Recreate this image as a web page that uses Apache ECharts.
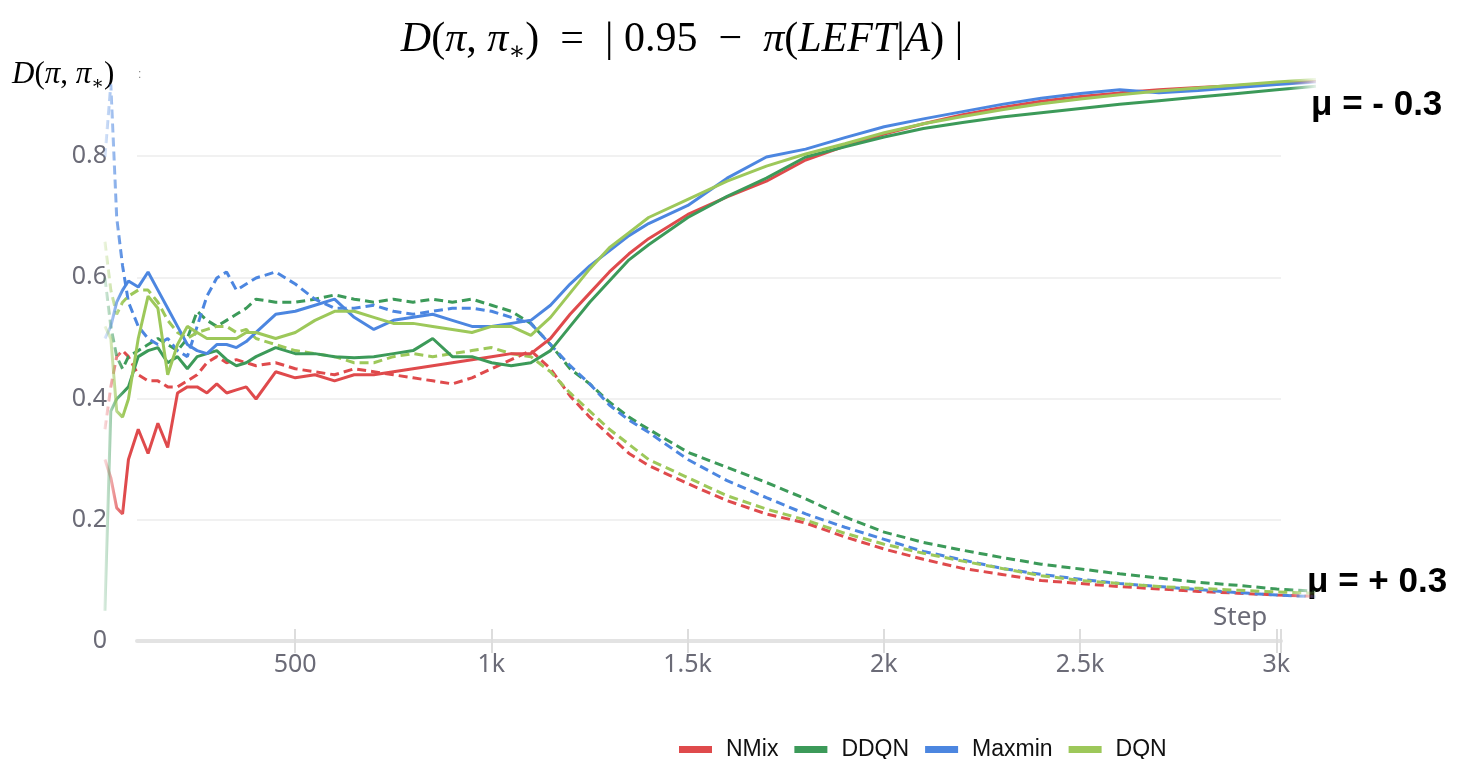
<!DOCTYPE html>
<html>
<head>
<meta charset="utf-8">
<title>D(pi, pi*)</title>
<script src="https://cdn.jsdelivr.net/npm/echarts@6/dist/echarts.min.js"></script>
<style>
    html, body { margin: 0; padding: 0; background: #fff; }
    #chartData { width: 1458px; height: 759px; }
</style>
</head>
<body>
<div id="chartData"></div>
<script>
// steps (x axis)
var steps = [15, 30, 45, 60, 75,
    100, 125, 150, 175, 200, 225, 250, 275, 300, 325, 350, 375, 400,
    450, 500, 550, 600, 650, 700, 750, 800, 850, 900, 950, 1000, 1050, 1100, 1150, 1200, 1250, 1300, 1350, 1400,
    1500, 1600, 1700, 1800, 1900, 2000, 2100, 2200, 2300, 2400, 2500, 2600, 2700, 2800, 2900, 3000, 3100];

// mu = -0.3 (solid lines, going up)
var nmixSolid = [0.30, 0.27, 0.22, 0.21, 0.30,
    0.35, 0.31, 0.36, 0.32, 0.41, 0.42, 0.42, 0.41, 0.425, 0.41, 0.415, 0.42, 0.40,
    0.445, 0.435, 0.44, 0.43, 0.44, 0.44, 0.445, 0.45, 0.455, 0.46, 0.465, 0.47, 0.475, 0.475, 0.50, 0.54, 0.575, 0.61, 0.64, 0.665,
    0.705, 0.734, 0.76, 0.795, 0.818, 0.838, 0.855, 0.87, 0.882, 0.892, 0.90, 0.906, 0.911, 0.915, 0.918, 0.921, 0.925];
var ddqnSolid = [0.05, 0.38, 0.40, 0.41, 0.42,
    0.47, 0.48, 0.485, 0.46, 0.47, 0.45, 0.47, 0.475, 0.48, 0.465, 0.455, 0.46, 0.47,
    0.485, 0.475, 0.475, 0.47, 0.468, 0.47, 0.475, 0.48, 0.50, 0.47, 0.47, 0.46, 0.455, 0.46, 0.48, 0.52, 0.56, 0.595, 0.63, 0.655,
    0.70, 0.735, 0.765, 0.80, 0.817, 0.833, 0.847, 0.857, 0.866, 0.873, 0.88, 0.887, 0.893, 0.899, 0.905, 0.911, 0.917];
var maxminSolid = [0.50, 0.52, 0.56, 0.58, 0.595,
    0.585, 0.61, 0.58, 0.55, 0.52, 0.49, 0.48, 0.475, 0.49, 0.49, 0.485, 0.495, 0.51,
    0.54, 0.545, 0.555, 0.565, 0.535, 0.515, 0.53, 0.535, 0.54, 0.53, 0.52, 0.52, 0.525, 0.53, 0.555, 0.59, 0.62, 0.645, 0.67, 0.69,
    0.72, 0.765, 0.80, 0.813, 0.832, 0.85, 0.863, 0.875, 0.887, 0.897, 0.905, 0.911, 0.906, 0.91, 0.915, 0.92, 0.924];
var dqnSolid = [0.52, 0.50, 0.38, 0.37, 0.40,
    0.50, 0.57, 0.55, 0.44, 0.49, 0.52, 0.51, 0.50, 0.50, 0.50, 0.50, 0.51, 0.51,
    0.50, 0.51, 0.53, 0.545, 0.545, 0.535, 0.525, 0.525, 0.52, 0.515, 0.51, 0.52, 0.52, 0.505, 0.535, 0.575, 0.615, 0.65, 0.675, 0.70,
    0.73, 0.76, 0.785, 0.805, 0.822, 0.84, 0.855, 0.867, 0.878, 0.888, 0.896, 0.903, 0.909, 0.914, 0.919, 0.924, 0.928];

// mu = +0.3 (dashed lines, going down)
var nmixDash = [0.35, 0.42, 0.47, 0.48, 0.47,
    0.44, 0.43, 0.43, 0.42, 0.42, 0.43, 0.44, 0.46, 0.47, 0.46, 0.465, 0.46, 0.455,
    0.46, 0.45, 0.445, 0.44, 0.45, 0.445, 0.44, 0.435, 0.43, 0.425, 0.435, 0.45, 0.465, 0.48, 0.45, 0.405, 0.37, 0.34, 0.31, 0.29,
    0.26, 0.232, 0.21, 0.195, 0.172, 0.152, 0.135, 0.12, 0.11, 0.10, 0.095, 0.09, 0.086, 0.082, 0.079, 0.076, 0.074];
var ddqnDash = [0.60, 0.52, 0.47, 0.45, 0.47,
    0.48, 0.49, 0.50, 0.49, 0.48, 0.50, 0.545, 0.53, 0.52, 0.53, 0.54, 0.55, 0.565,
    0.56, 0.56, 0.565, 0.572, 0.565, 0.56, 0.565, 0.56, 0.565, 0.56, 0.565, 0.555, 0.545, 0.525, 0.49, 0.45, 0.425, 0.395, 0.37, 0.35,
    0.312, 0.287, 0.262, 0.235, 0.205, 0.18, 0.163, 0.15, 0.138, 0.127, 0.119, 0.111, 0.104, 0.097, 0.092, 0.086, 0.082];
var maxminDash = [0.80, 0.92, 0.70, 0.62, 0.56,
    0.52, 0.50, 0.49, 0.50, 0.48, 0.47, 0.52, 0.57, 0.60, 0.61, 0.58, 0.59, 0.60,
    0.61, 0.59, 0.565, 0.55, 0.55, 0.555, 0.545, 0.54, 0.545, 0.55, 0.55, 0.545, 0.535, 0.525, 0.49, 0.455, 0.425, 0.39, 0.365, 0.345,
    0.30, 0.265, 0.237, 0.21, 0.188, 0.168, 0.148, 0.134, 0.12, 0.11, 0.102, 0.095, 0.09, 0.085, 0.08, 0.076, 0.073];
var dqnDash = [0.66, 0.58, 0.54, 0.56, 0.57,
    0.58, 0.58, 0.56, 0.53, 0.51, 0.50, 0.51, 0.515, 0.52, 0.52, 0.51, 0.515, 0.50,
    0.49, 0.48, 0.475, 0.47, 0.46, 0.46, 0.47, 0.475, 0.47, 0.475, 0.48, 0.485, 0.475, 0.47, 0.445, 0.41, 0.38, 0.35, 0.325, 0.30,
    0.27, 0.24, 0.218, 0.20, 0.178, 0.16, 0.145, 0.132, 0.12, 0.108, 0.10, 0.095, 0.09, 0.087, 0.084, 0.081, 0.079];

var names = ['NMix', 'DDQN', 'Maxmin', 'DQN'];
var colors = ['#df4a4c', '#3c9a59', '#4c86e0', '#9dc85a'];
var xTicks = [500, 1000, 1500, 2000, 2500, 3000];
var yTicks = [0, 0.2, 0.4, 0.6, 0.8];

var labelColor = '#6b6b77';
var labelFont = '"Noto Sans", "Open Sans", sans-serif';

function rgba(hex, a) {
    var r = parseInt(hex.substr(1, 2), 16);
    var g = parseInt(hex.substr(3, 2), 16);
    var b = parseInt(hex.substr(5, 2), 16);
    return 'rgba(' + r + ',' + g + ',' + b + ',' + a + ')';
}

// lines fade in at the start and fade out at the right end
function fade(hex) {
    return new echarts.graphic.LinearGradient(0, 0, 1, 0, [
        {offset: 0, color: rgba(hex, 0.12)},
        {offset: 0.018, color: rgba(hex, 1)},
        {offset: 0.975, color: rgba(hex, 1)},
        {offset: 1, color: rgba(hex, 0.05)}
    ]);
}

function pairs(values) {
    return steps.map(function (s, i) { return [s, values[i]]; });
}

function makeSeries(idx, values, dashed) {
    return {
        name: names[idx],
        type: 'line',
        xAxisIndex: 1,
        yAxisIndex: 1,
        showSymbol: false,
        clip: false,
        silent: true,
        itemStyle: {color: colors[idx]},
        lineStyle: {
            color: fade(colors[idx]),
            width: 3,
            type: dashed ? [9, 5] : 'solid'
        },
        data: pairs(values)
    };
}

var myChart = echarts.init(document.getElementById('chartData'));

var mathRich = function (size) {
    var fam = '"Liberation Serif", "DejaVu Serif", serif';
    return {
        i: {fontFamily: fam, fontStyle: 'italic', fontSize: size, color: '#222', lineHeight: size * 1.2},
        n: {fontFamily: fam, fontSize: size, color: '#222', lineHeight: size * 1.2},
        s: {fontFamily: fam, fontSize: size * 0.6, color: '#222', lineHeight: size * 1.2, verticalAlign: 'bottom'}
    };
};

var option = {
    animation: false,
    backgroundColor: '#fff',
    grid: [
        {left: 137, right: 177, top: 156, bottom: 118},   // axes
        {left: 99, right: 142, top: 36, bottom: 118},     // data
        {left: 137, right: 177, top: 156, bottom: 118}    // inner ticks
    ],
    xAxis: [
        {
            type: 'value', gridIndex: 0, min: 97, max: 3012,
            axisLine: {show: true, lineStyle: {color: '#e3e3e3', width: 4}},
            axisTick: {show: true, length: 12, customValues: xTicks.concat([3012]), lineStyle: {color: '#dddddd', width: 2}},
            axisLabel: {
                customValues: xTicks, margin: 11,
                color: labelColor, fontFamily: labelFont, fontSize: 25,
                formatter: function (v) { return v >= 1000 ? (v / 1000) + 'k' : String(v); }
            },
            splitLine: {show: false}
        },
        {type: 'value', gridIndex: 1, min: 0, max: 3100, show: false},
        {
            type: 'value', gridIndex: 2, min: 97, max: 3012,
            axisLine: {show: false},
            axisTick: {show: true, inside: true, length: 12, customValues: xTicks.concat([3012]), lineStyle: {color: '#dddddd', width: 2}},
            axisLabel: {show: false},
            splitLine: {show: false}
        }
    ],
    yAxis: [
        {
            type: 'value', gridIndex: 0, min: 0, max: 0.8, interval: 0.2,
            axisLine: {show: false},
            axisTick: {show: false},
            axisLabel: {
                margin: 30, color: labelColor, fontFamily: labelFont, fontSize: 25,
                formatter: function (v) { return yTicks.indexOf(Math.round(v * 10) / 10) >= 0 ? String(Math.round(v * 10) / 10) : ''; }
            },
            splitLine: {show: true, lineStyle: {color: '#ececec', width: 1.5}}
        },
        {type: 'value', gridIndex: 1, min: 0, max: 1, show: false},
        {type: 'value', gridIndex: 2, min: 0, max: 0.8, show: false}
    ],
    legend: {
        left: 674,
        top: 733,
        icon: 'rect',
        itemWidth: 33,
        itemHeight: 7,
        itemGap: 16,
        textStyle: {
            color: '#111',
            fontFamily: '"Liberation Sans Narrow", "Liberation Sans", Arial, sans-serif',
            fontSize: 23,
            padding: [0, 0, 0, 9]
        },
        data: names.map(function (n, i) { return {name: n, itemStyle: {color: colors[i]}}; })
    },
    graphic: [
        {
            type: 'text', x: 682, y: 40,
            style: {
                text: '{i|D}{n|(}{i|π}{n|, }{i|π}{s|∗}{n|)  =  | 0.95  −  }{i|π}{n|(}{i|LEFT}{n||}{i|A}{n|) |}',
                align: 'center', verticalAlign: 'middle',
                rich: mathRich(42)
            }
        },
        {
            type: 'text', x: 12, y: 75,
            style: {
                text: '{i|D}{n|(}{i|π}{n|, }{i|π}{s|∗}{n|)}',
                align: 'left', verticalAlign: 'middle',
                rich: mathRich(31)
            }
        },
        {
            type: 'text', x: 138, y: 75,
            style: {text: ':', fontSize: 12, fill: '#888', align: 'left', verticalAlign: 'middle'}
        },
        {
            type: 'text', x: 1213, y: 618,
            style: {text: 'Step', fontFamily: labelFont, fontSize: 26, fill: labelColor, align: 'left', verticalAlign: 'middle'}
        },
        {
            type: 'text', x: 1311, y: 105,
            style: {text: 'μ = - 0.3', fontFamily: '"Liberation Sans", Arial, sans-serif', fontWeight: 'bold', fontSize: 35, fill: '#000', align: 'left', verticalAlign: 'middle'}
        },
        {
            type: 'text', x: 1307, y: 582,
            style: {text: 'μ = + 0.3', fontFamily: '"Liberation Sans", Arial, sans-serif', fontWeight: 'bold', fontSize: 35, fill: '#000', align: 'left', verticalAlign: 'middle'}
        }
    ],
    series: [
        makeSeries(0, nmixDash, true),
        makeSeries(1, ddqnDash, true),
        makeSeries(2, maxminDash, true),
        makeSeries(3, dqnDash, true),
        makeSeries(0, nmixSolid, false),
        makeSeries(1, ddqnSolid, false),
        makeSeries(2, maxminSolid, false),
        makeSeries(3, dqnSolid, false)
    ]
};

myChart.setOption(option);
</script>
</body>
</html>
